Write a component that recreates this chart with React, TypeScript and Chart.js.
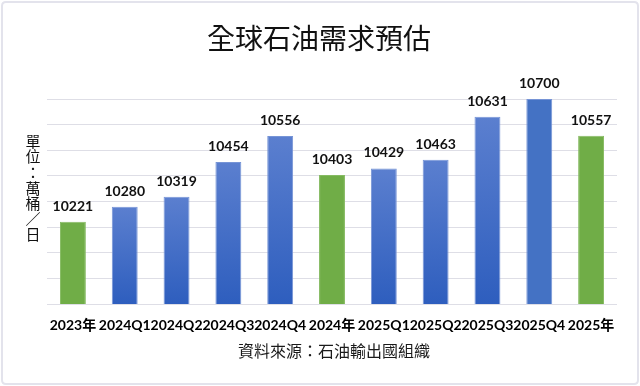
import React, { useEffect, useRef } from "react";
import { Chart, registerables } from "chart.js";

Chart.register(...registerables);

const categories = ["2023年", "2024Q1", "2024Q2", "2024Q3", "2024Q4", "2024年", "2025Q1", "2025Q2", "2025Q3", "2025Q4", "2025年"];
const demand = [10221, 10280, 10319, 10454, 10556, 10403, 10429, 10463, 10631, 10700, 10557];
const isAnnual = [true, false, false, false, false, true, false, false, false, false, true];
const titleText = "全球石油需求預估";
const unitText = "單位：萬桶／日";
const sourceText = "資料來源：石油輸出國組織";
const yMin = 9900;
const yMax = 10700;
const yStep = 100;

const CJK = "'Noto Sans CJK TC', 'Noto Sans CJK SC', sans-serif";
const LATIN = "Lato, 'Noto Sans CJK TC', sans-serif";

const decorPlugin = {
  id: "decor",
  beforeDraw(chart: any) {
    const c = chart.ctx;
    c.save();
    c.fillStyle = "#ffffff";
    c.fillRect(0, 0, chart.width, chart.height);
    c.strokeStyle = "#e3e3ec";
    c.lineWidth = 2;
    const x = 2, y = 2, w = chart.width - 4, h = chart.height - 4, r = 4;
    c.beginPath();
    c.moveTo(x + r, y);
    c.lineTo(x + w - r, y);
    c.quadraticCurveTo(x + w, y, x + w, y + r);
    c.lineTo(x + w, y + h - r);
    c.quadraticCurveTo(x + w, y + h, x + w - r, y + h);
    c.lineTo(x + r, y + h);
    c.quadraticCurveTo(x, y + h, x, y + h - r);
    c.lineTo(x, y + r);
    c.quadraticCurveTo(x, y, x + r, y);
    c.stroke();
    c.restore();
  },
  afterDraw(chart: any) {
    const c = chart.ctx;
    c.save();
    c.fillStyle = "#111111";
    c.textAlign = "center";
    c.textBaseline = "middle";
    c.font = `28px ${CJK}`;
    c.fillText(titleText, 319, 38);
    c.font = `15px ${CJK}`;
    const chars = Array.from(unitText);
    chars.forEach((ch, i) => {
      c.fillText(ch, 33, 141 + i * 15.6);
    });
    c.font = `16px ${CJK}`;
    c.fillStyle = "#1a1a1a";
    c.fillText(sourceText, 334, 351);
    c.restore();
  },
  afterDatasetsDraw(chart: any) {
    const c = chart.ctx;
    const meta = chart.getDatasetMeta(0);
    c.save();
    c.fillStyle = "#111111";
    c.textAlign = "center";
    c.textBaseline = "alphabetic";
    c.font = `bold 14px ${LATIN}`;
    meta.data.forEach((bar: any, i: number) => {
      c.fillText(String(demand[i]), bar.x, bar.y - 11);
    });
    c.restore();
  },
};

export default function App() {
  const ref = useRef<HTMLCanvasElement>(null);
  useEffect(() => {
    if (!ref.current) return;
    const chart = new Chart(ref.current, {
      type: "bar",
      data: {
        labels: categories,
        datasets: [
          {
            data: demand,
            backgroundColor: (ctx: any) => {
              const i = ctx.dataIndex;
              if (isAnnual[i]) return "#70ad47";
              const chart = ctx.chart;
              const area = chart.chartArea;
              const ys = chart.scales.y;
              if (!area || !ys) return "#4472c4";
              const v = demand[i];
              if (v >= yMax) return "#4472c4";
              const top = ys.getPixelForValue(v);
              const bottom = ys.getPixelForValue(yMin);
              const g = chart.ctx.createLinearGradient(0, top, 0, bottom);
              g.addColorStop(0, "#5b7fcf");
              g.addColorStop(1, "#2e5ebe");
              return g;
            },
            borderColor: (ctx: any) => (isAnnual[ctx.dataIndex] ? "#86bb62" : "#7694d6"),
            borderWidth: 1,
            borderSkipped: "bottom",
            categoryPercentage: 1,
            barPercentage: 0.5,
          },
        ],
      },
      options: {
        responsive: false,
        animation: false,
        devicePixelRatio: 1,
        layout: { padding: { left: 47, right: 23, top: 99, bottom: 0 } },
        plugins: {
          legend: { display: false },
          title: { display: false },
          tooltip: { enabled: false },
        },
        scales: {
          x: {
            grid: { display: false, drawTicks: false },
            border: { display: false },
            ticks: {
              autoSkip: false,
              maxRotation: 0,
              minRotation: 0,
              padding: 13,
              color: "#000000",
              font: { family: LATIN, size: 14, weight: "bold" },
            },
            afterFit: (s: any) => {
              s.height = 82;
            },
          },
          y: {
            min: yMin,
            max: yMax,
            ticks: { display: false, stepSize: yStep },
            grid: { color: "#dedee6", lineWidth: 1, drawTicks: false },
            border: { display: false },
            afterFit: (s: any) => {
              s.width = 0;
            },
          },
        },
      },
      plugins: [decorPlugin],
    } as any);
    return () => chart.destroy();
  }, []);
  return (
    <div style={{ position: "fixed", left: 0, top: 0, width: 640, height: 386, background: "#fff" }}>
      <canvas ref={ref} width={640} height={386} style={{ display: "block", width: 640, height: 386 }} />
    </div>
  );
}
